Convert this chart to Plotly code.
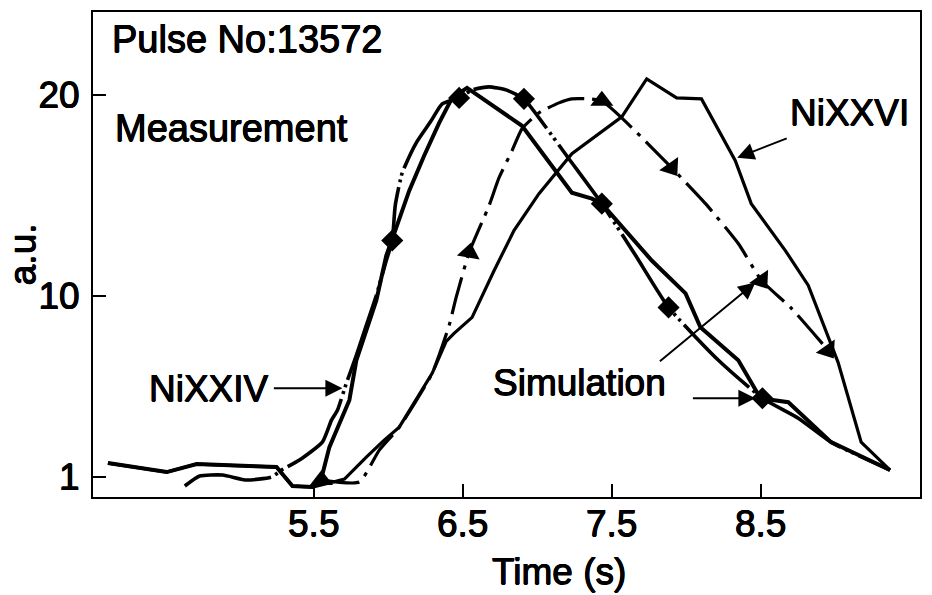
import plotly.graph_objects as go

FONT = "Liberation Sans, Arial, Helvetica, sans-serif"
# slight outline to give the printed, heavier look of the lettering
INK = "0.5px 0 0 #000, -0.5px 0 0 #000, 0 0.5px 0 #000, 0 -0.5px 0 #000"

# --- NiXXIV, measured (solid line) ---
t_24_meas = [4.118, 4.513, 4.714, 5.002, 5.250, 5.357, 5.491, 5.545, 5.605, 5.739,
             5.786, 5.920, 5.987, 6.054, 6.141, 6.241, 6.342, 6.429, 6.529, 6.898,
             7.099, 7.233, 7.367, 7.434, 7.769, 7.996, 8.096, 8.350, 8.499, 8.686,
             8.973, 9.369]
v_24_meas = [1.687, 1.240, 1.637, 1.538, 1.488, 0.546, 0.496, 0.744, 2.480, 4.812,
             6.796, 9.772, 12.004, 13.393, 15.228, 16.964, 18.601, 19.841, 20.337, 18.452,
             16.468, 15.129, 14.831, 14.583, 11.756, 10.119, 8.433, 6.796, 4.911, 4.712,
             2.728, 1.339]

# --- NiXXIV, simulated (dash-dot-dot line, diamonds) ---
t_24_sim = [4.634, 4.734, 4.888, 5.049, 5.217, 5.284, 5.404, 5.558, 5.619, 5.659,
            5.719, 5.786, 5.853, 5.920, 5.987, 6.027, 6.047, 6.094, 6.188, 6.288,
            6.362, 6.476, 6.563, 6.677, 6.791, 6.911, 7.012, 7.213, 7.434, 7.661,
            7.882, 8.217, 8.512, 8.753, 8.973, 9.369]
v_24_sim = [0.546, 1.042, 1.091, 0.843, 0.992, 1.339, 1.835, 2.728, 3.819, 4.315,
            5.655, 7.044, 8.532, 10.020, 11.756, 12.748, 14.484, 16.121, 17.609, 18.700,
            19.544, 19.841, 20.238, 20.387, 20.238, 19.792, 18.849, 16.815, 14.583, 12.004,
            9.425, 6.796, 4.911, 3.919, 2.728, 1.339]
sim24_marked = [15, 21, 25, 28, 30, 32]

# --- NiXXVI, measured (solid line) ---
t_26_meas = [4.118, 4.513, 4.714, 5.002, 5.250, 5.357, 5.491, 5.605, 5.706, 5.853,
             5.973, 6.074, 6.295, 6.389, 6.442, 6.563, 6.711, 6.844, 7.012, 7.233,
             7.568, 7.735, 7.936, 8.103, 8.330, 8.437, 8.666, 8.820, 8.953, 9.020,
             9.175, 9.369]
v_26_meas = [1.687, 1.240, 1.637, 1.538, 1.488, 0.546, 0.496, 0.694, 0.893, 1.984,
             2.827, 3.472, 6.151, 7.738, 8.135, 8.929, 11.260, 13.244, 15.079, 17.063,
             18.899, 20.784, 19.841, 19.792, 16.716, 14.583, 12.252, 10.516, 8.036, 6.696,
             2.728, 1.339]

# --- NiXXVI, simulated (dash-dot line, triangles) ---
t_26_sim = [5.552, 5.806, 5.940, 6.074, 6.295, 6.409, 6.456, 6.543, 6.677, 6.744,
            6.831, 6.898, 7.012, 7.146, 7.233, 7.347, 7.434, 7.568, 7.902, 8.130,
            8.350, 8.506, 8.707, 8.953]
v_26_sim = [0.843, 0.744, 2.331, 3.472, 6.151, 8.532, 9.921, 12.153, 14.484, 15.873,
            17.212, 18.304, 19.097, 19.593, 19.792, 19.792, 19.692, 18.849, 16.369, 14.583,
            12.599, 10.764, 9.375, 7.292]
sim26_marked = [0, 7, 16, 18, 21, 23]
sim26_symbols = ["triangle-up", "triangle-up", "triangle-up",
                 "triangle-down", "triangle-down", "triangle-down"]
sim26_angles = [0, 10, 0, -35, -35, -35]

x_ticks = [5.5, 6.5, 7.5, 8.5]
y_ticks = [1, 10, 20]

fig = go.Figure()

fig.add_trace(go.Scatter(
    x=t_24_meas, y=v_24_meas, mode="lines",
    line=dict(color="black", width=4), showlegend=False))

fig.add_trace(go.Scatter(
    x=t_26_meas, y=v_26_meas, mode="lines",
    line=dict(color="black", width=3.2), showlegend=False))

fig.add_trace(go.Scatter(
    x=t_24_sim, y=v_24_sim, mode="lines",
    line=dict(color="black", width=3.6, dash="90px,5px,3px,4px,3px,5px",
              shape="spline", smoothing=0.5),
    showlegend=False))
fig.add_trace(go.Scatter(
    x=[t_24_sim[i] for i in sim24_marked], y=[v_24_sim[i] for i in sim24_marked],
    mode="markers", marker=dict(symbol="diamond", size=17, color="black"),
    showlegend=False))

fig.add_trace(go.Scatter(
    x=t_26_sim, y=v_26_sim, mode="lines",
    line=dict(color="black", width=3.2, dash="38px,8px,4px,8px",
              shape="spline", smoothing=0.5),
    showlegend=False))
fig.add_trace(go.Scatter(
    x=[t_26_sim[i] for i in sim26_marked], y=[v_26_sim[i] for i in sim26_marked],
    mode="markers",
    marker=dict(symbol=sim26_symbols, angle=sim26_angles, size=20, color="black"),
    showlegend=False))

big = dict(family=FONT, size=37, color="black", shadow=INK)
bigger = dict(family=FONT, size=38, color="black", shadow=INK)

annotations = [
    dict(text="Pulse No:13572", xref="paper", yref="paper", x=0.0205, y=0.944,
         xanchor="left", yanchor="middle", showarrow=False, font=bigger),
    dict(text="Measurement", xref="paper", yref="paper", x=0.0241, y=0.761,
         xanchor="left", yanchor="middle", showarrow=False, font=bigger),
    dict(text="NiXXVI", xref="paper", yref="paper", x=0.8408, y=0.792,
         xanchor="left", yanchor="middle", showarrow=False, font=big),
    dict(text="NiXXIV", xref="paper", yref="paper", x=0.0651, y=0.2243,
         xanchor="left", yanchor="middle", showarrow=False, font=big),
    dict(text="Simulation", xref="paper", yref="paper", x=0.4813, y=0.2366,
         xanchor="left", yanchor="middle", showarrow=False, font=big),
    dict(text="Time (s)", xref="paper", yref="paper", x=0.5633, y=-0.1543,
         xanchor="center", yanchor="middle", showarrow=False, font=big),
    dict(text="a.u.", xref="paper", yref="paper", x=-0.085, y=0.5, textangle=-90,
         xanchor="center", yanchor="middle", showarrow=False, font=big),
]

arrow_style = dict(showarrow=True, arrowhead=2, arrowsize=1.7, arrowwidth=2,
                   arrowcolor="black", text="", standoff=0)
arrows = [
    dict(x=8.343, y=16.866, ax=51, ay=-20),   # to NiXXVI measured
    dict(x=5.692, y=5.407, ax=-70, ay=0),     # to NiXXIV measured
    dict(x=8.465, y=10.665, ax=-97, ay=80),   # to NiXXVI simulation
    dict(x=8.465, y=4.911, ax=-64, ay=0),     # to NiXXIV simulation
]
for a in arrows:
    annotations.append(dict(xref="x", yref="y", **a, **arrow_style))

axis_common = dict(
    showline=True, linewidth=2, linecolor="black", mirror=True,
    ticks="inside", ticklen=13, tickwidth=2, tickcolor="black",
    showgrid=False, zeroline=False,
    tickfont=dict(family=FONT, size=37, color="black", shadow=INK),
)

fig.update_layout(
    width=932, height=595,
    margin=dict(l=93, r=10, t=11, b=98),
    paper_bgcolor="white", plot_bgcolor="white",
    xaxis=dict(range=[4.018, 9.570], tickvals=x_ticks, tickformat=".1f",
               ticklabelstandoff=-7, **axis_common),
    yaxis=dict(range=[0, 24.11], tickvals=y_ticks, ticklabelstandoff=4,
               **axis_common),
    annotations=annotations,
    showlegend=False,
)

fig.write_html("out.html")
